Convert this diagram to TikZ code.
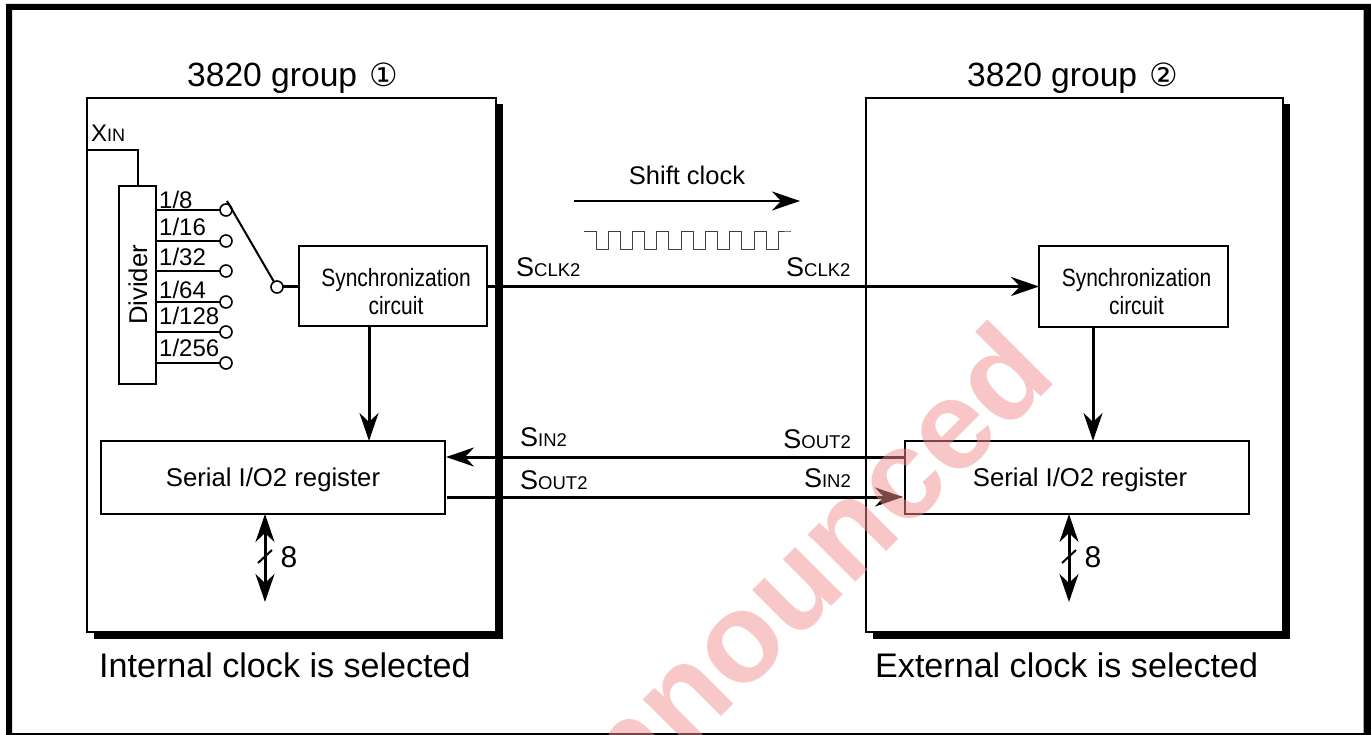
\documentclass[tikz,border=0pt]{standalone}
\usepackage{xcolor}
\usepackage{fontspec}
\setmainfont{Liberation Sans}
\newfontfamily\circlefont{DejaVu Sans}
\newfontfamily\narrowfont[FakeStretch=0.84]{Liberation Sans}
\usetikzlibrary{arrows.meta, positioning, shadows}
\definecolor{stampred}{rgb}{0.95,0.56,0.56}
\newcommand{\fsize}[1]{\fontsize{#1}{#1}\selectfont}
\newcommand{\pinname}[2]{{\fsize{27}#1}{\fsize{18.5}#2}}
\newcommand{\groupmark}[1]{\hspace{3pt}{\circlefont\fsize{32}#1}}
\tikzstyle{panel} = [rectangle, draw, fill=white, line width=1.6pt, outer sep=0pt, drop shadow={shadow xshift=6.5pt, shadow yshift=-6.5pt, fill=black, opacity=1}]
\tikzstyle{block} = [rectangle, draw, line width=1.6pt, outer sep=0pt, inner sep=0pt]
\tikzstyle{syncblock} = [block, line width=2pt]
\tikzstyle{blockname} = [inner sep=0pt, font=\fsize{25.7}]
\tikzstyle{syncname} = [inner sep=0pt, align=center, font=\narrowfont\fontsize{25}{27.5}\selectfont]
\tikzstyle{tap} = [circle, draw, fill=white, line width=1.6pt, minimum size=12pt, inner sep=0pt, outer sep=0pt]
\tikzstyle{wire} = [line width=2pt]
\tikzstyle{arrow} = [line width=3pt, -{Stealth[length=28pt, width=19pt, inset=9pt]}]
\tikzstyle{busarrow} = [line width=3pt, {Stealth[length=28pt, width=19pt, inset=9pt]}-{Stealth[length=28pt, width=19pt, inset=9pt]}]
\tikzstyle{heading} = [anchor=base west, inner sep=0pt, font=\fsize{33.6}]
\tikzstyle{caption} = [anchor=base west, inner sep=0pt, font=\fsize{34.1}]
\tikzstyle{pin} = [anchor=base west, inner sep=0pt]
\tikzstyle{ratio} = [anchor=base west, inner sep=0pt, font=\fsize{24}]
\begin{document}
\begin{tikzpicture}[x=1pt, y=-1pt]
  \useasboundingbox (0,0) rectangle (1371,735);
  \fill[black, even odd rule] (6,4) rectangle (1372,736) (12,10) rectangle (1363.5,733);

  % the two groups
  \node (group1) [panel, minimum width=409pt, minimum height=534pt] at (291.5,365) {};
  \node (group2) [panel, minimum width=417pt, minimum height=534pt] at (1074.5,365) {};
  \node (title1) [heading] at (187,87) {3820 group \groupmark{①}};
  \node (title2) [heading] at (967,87) {3820 group \groupmark{②}};
  \node (caption1) [caption] at (99,677) {Internal clock is selected};
  \node (caption2) [caption] at (875,677) {External clock is selected};

  % blocks
  \node (divider) [block, minimum width=37pt, minimum height=198pt] at (137.5,285) {};
  \node (dividername) [blockname, rotate=90] at (138,285) {Divider};
  \node (sync1) [syncblock, minimum width=188pt, minimum height=80pt] at (393,286.5) {};
  \node (sync2) [syncblock, minimum width=189pt, minimum height=81pt] at (1133.5,286.5) {};
  \node (syncname1) [syncname] at ([xshift=3pt, yshift=-5pt]sync1.center) {Synchronization\\circuit};
  \node (syncname2) [syncname] at ([xshift=3pt, yshift=-5pt]sync2.center) {Synchronization\\circuit};
  \node (serial1) [block, minimum width=344pt, minimum height=73pt] at (273,477.5) {};
  \node (serial2) [block, minimum width=344pt, minimum height=73pt] at (1077,477.5) {};
  \node (serialname1) [blockname] at ([yshift=-2pt]serial1.center) {Serial I/O2 register};
  \node (serialname2) [blockname] at ([xshift=3pt, yshift=-2pt]serial2.center) {Serial I/O2 register};

  % clock input
  \node (xin) [pin] at (91,142) {{\fsize{24}X}{\fsize{18}IN}};
  \coordinate (xinleft) at (87,150);
  \draw[wire] (xinleft) -| (divider.north);

  % divider taps
  \foreach \i/\y/\ybase/\txt in {1/210/209/1\slash 8, 2/241/236/1\slash 16, 3/271/266/1\slash 32, 4/302/299/1\slash 64, 5/332/325/1\slash 128, 6/363/356/1\slash 256} {
    \node (tap\i) [tap] at (226,\y) {};
    \draw[wire] (divider.east |- tap\i.west) -- (tap\i.west);
    \node (ratio\i) [ratio] at (159,\ybase) {\txt};
  }

  % selector
  \node (pole) [tap] at (277,287) {};
  \coordinate (armend) at (227,201);
  \draw[wire] (armend) -- (pole);
  \draw[line width=3pt] (pole.east) -- (pole.east -| sync1.west);

  % shift clock
  \node (shiftname) [font=\fsize{25.5}, anchor=base, inner sep=0pt] at (687,185) {Shift clock};
  \coordinate (shiftstart) at (574,201);
  \coordinate (shiftend) at (800,201);
  \draw[line width=2.5pt, -{Stealth[length=28pt, width=19pt, inset=9pt]}] (shiftstart) -- (shiftend);
  \draw[line width=1pt, black!75] (584,232) -- (596,232)
    \foreach \k in {0,...,7} { -- ++(0,18) -- ++(12.2,0) -- ++(0,-18) -- ++(12.1,0) } -- (791,232);

  % signal lines
  \node (sclkleft) [pin] at (516,277) {\pinname{S}{CLK2}};
  \node (sclkright) [pin] at (786,277) {\pinname{S}{CLK2}};
  \draw[arrow] (sync1.east) -- (sync2.west);
  \node (sinleft) [pin] at (520,446) {\pinname{S}{IN2}};
  \node (soutright) [pin, anchor=base east] at (851,448) {\pinname{S}{OUT2}};
  \draw[arrow] ([yshift=20.5pt]serial2.west) -- ([xshift=1pt, yshift=20.5pt]serial1.east);
  \node (soutleft) [pin] at (520,489) {\pinname{S}{OUT2}};
  \node (sinright) [pin, anchor=base east] at (851,487) {\pinname{S}{IN2}};
  \draw[arrow] ([xshift=2pt, yshift=-19.5pt]serial1.east) -- ([xshift=-2pt, yshift=-19.5pt]serial2.west);

  % sync to register
  \draw[arrow] ([xshift=-24pt]sync1.south) -- ([xshift=-24pt]sync1.south |- serial1.north);
  \draw[arrow] ([xshift=-40.5pt]sync2.south) -- ([xshift=-40.5pt]sync2.south |- serial2.north);

  % 8 bit buses
  \coordinate (bus1) at (265,602);
  \coordinate (bus2) at (1069,602);
  \draw[busarrow] (bus1 |- serial1.south) -- (bus1);
  \draw[busarrow] (bus2 |- serial2.south) -- (bus2);
  \foreach \b in {bus1, bus2} {
    \draw[wire] ([shift={(-7pt,39pt)}]\b) -- ([shift={(7pt,52pt)}]\b);
  }
  \node (width1) [font=\fsize{30}, inner sep=0pt] at (289,557) {8};
  \node (width2) [font=\fsize{30}, inner sep=0pt] at (1093,557) {8};

  % stamp over the sheet
  \node (stamp) [anchor=base east, inner sep=0pt, rotate=45, opacity=0.5, text=stampred, font=\bfseries\fsize{127}] at (1059,379) {nnounced};
\end{tikzpicture}
\end{document}
